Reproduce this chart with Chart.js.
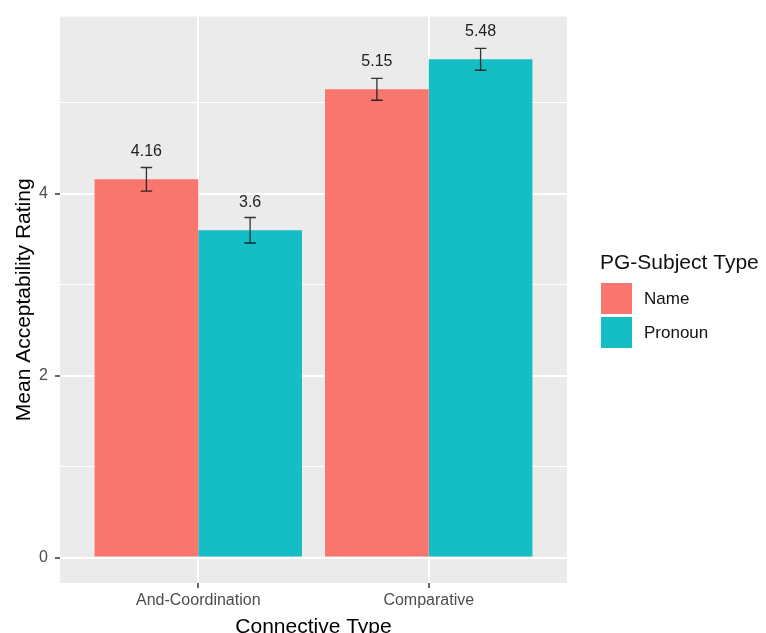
<!DOCTYPE html>
<html><head><meta charset="utf-8">
<script src="https://cdn.jsdelivr.net/npm/chart.js@4.4.0/dist/chart.umd.min.js"></script>
<style>html,body{margin:0;padding:0;background:#fff}canvas{display:block}</style>
</head><body>
<canvas id="c" width="766" height="633"></canvas>
<script>
const categories = ['And-Coordination', 'Comparative'];
const seriesNames = ['Name', 'Pronoun'];
const nameMeans = [4.16, 5.15];
const pronounMeans = [3.6, 5.48];
const nameSE = [0.13, 0.12];
const pronounSE = [0.14, 0.12];
const yTickValues = [0, 2, 4];
const yMinorValues = [1, 3, 5];
const legendTitle = 'PG-Subject Type';
const xTitle = 'Connective Type';
const yTitle = 'Mean Acceptability Rating';
const colors = ['#F8766D', '#14BEC4'];

const FONT = "'Liberation Sans', Arial, Helvetica, sans-serif";
const xPos = categories.map((c, i) => i + 1);
const means = [nameMeans, pronounMeans];
const ses = [nameSE, pronounSE];

const datasets = seriesNames.map((n, k) => ({
  label: n,
  data: xPos.map((x, i) => ({ x: x, y: means[k][i] })),
  backgroundColor: colors[k],
  borderWidth: 0,
  barPercentage: 1.0,
  categoryPercentage: 0.9
}));

const panelBg = {
  id: 'panelBg',
  beforeDraw(chart) {
    const { ctx, chartArea: a } = chart;
    ctx.save();
    ctx.fillStyle = '#EBEBEB';
    ctx.fillRect(a.left, a.top, a.right - a.left, a.bottom - a.top);
    ctx.restore();
  }
};

const errorBars = {
  id: 'errorBars',
  afterDatasetsDraw(chart) {
    const { ctx } = chart;
    const ys = chart.scales.y, xs = chart.scales.x;
    const capHalf = (xs.getPixelForValue(1.025) - xs.getPixelForValue(1));
    ctx.save();
    datasets.forEach((ds, k) => {
      const meta = chart.getDatasetMeta(k);
      meta.data.forEach((bar, i) => {
        const m = means[k][i], se = ses[k][i];
        const x = bar.x;
        const yT = ys.getPixelForValue(m + se), yB = ys.getPixelForValue(m - se);
        ctx.strokeStyle = 'rgba(20,20,20,0.85)';
        ctx.lineWidth = 1.3;
        ctx.beginPath();
        ctx.moveTo(x, yT); ctx.lineTo(x, yB);
        ctx.moveTo(x - capHalf, yT); ctx.lineTo(x + capHalf, yT);
        ctx.moveTo(x - capHalf, yB); ctx.lineTo(x + capHalf, yB);
        ctx.stroke();
        ctx.fillStyle = '#222222';
        ctx.font = '16px ' + FONT;
        ctx.textAlign = 'center';
        ctx.textBaseline = 'middle';
        ctx.fillText(String(m), x, ys.getPixelForValue(m + 0.3));
      });
    });
    ctx.restore();
  }
};

const customLegend = {
  id: 'customLegend',
  afterDraw(chart) {
    const { ctx } = chart;
    ctx.save();
    ctx.fillStyle = '#111111';
    ctx.font = '21px ' + FONT;
    ctx.textAlign = 'left';
    ctx.textBaseline = 'middle';
    ctx.fillText(legendTitle, 600, 263);
    chart.data.datasets.forEach((ds, k) => {
      const top = 283 + k * 34;
      ctx.fillStyle = ds.backgroundColor;
      ctx.fillRect(601, top, 31, 31);
      ctx.fillStyle = '#111111';
      ctx.font = '17px ' + FONT;
      ctx.fillText(ds.label, 644, top + 16.5);
    });
    ctx.restore();
  }
};

new Chart(document.getElementById('c'), {
  type: 'bar',
  data: { datasets: datasets },
  options: {
    responsive: false,
    animation: false,
    layout: { padding: { top: 15, right: 199, bottom: 0, left: 0 } },
    plugins: { legend: { display: false }, tooltip: { enabled: false } },
    scales: {
      x: {
        type: 'linear',
        min: 0.4, max: 2.6,
        offset: false,
        afterBuildTicks: s => { s.ticks = xPos.map(v => ({ value: v })); },
        afterFit: s => { s.height = 50; },
        ticks: {
          callback: v => categories[v - 1] ?? '',
          font: { size: 16, family: FONT }, color: '#4D4D4D',
          padding: 3, autoSkip: false, maxRotation: 0
        },
        grid: {
          offset: false, color: '#FFFFFF', lineWidth: 2,
          drawTicks: true, tickLength: 5, tickColor: '#333333', tickWidth: 1.5
        },
        border: { display: false },
        title: {
          display: true, text: xTitle, color: '#000000',
          font: { size: 21, family: FONT, lineHeight: 0.52 },
          padding: { top: 0, bottom: 0 }
        }
      },
      y: {
        type: 'linear',
        min: -0.28, max: 5.95,
        afterBuildTicks: s => {
          s.ticks = [...yTickValues, ...yMinorValues].sort((a, b) => a - b).map(v => ({ value: v }));
        },
        afterFit: s => { s.width = 60; },
        ticks: {
          callback: v => yTickValues.includes(v) ? String(v) : '',
          font: { size: 16, family: FONT }, color: '#4D4D4D',
          padding: 7, autoSkip: false
        },
        grid: {
          color: '#FFFFFF',
          lineWidth: c => (c.tick && yTickValues.includes(c.tick.value)) ? 2 : 1,
          drawTicks: true, tickLength: 5,
          tickColor: c => (c.tick && yTickValues.includes(c.tick.value)) ? '#333333' : 'rgba(0,0,0,0)',
          tickWidth: 1.5
        },
        border: { display: false },
        title: {
          display: true, text: yTitle, color: '#000000',
          font: { size: 21, family: FONT, lineHeight: 1.2 },
          padding: { top: 12, bottom: 0 }
        }
      }
    }
  },
  plugins: [panelBg, errorBars, customLegend]
});
</script>
</body></html>
